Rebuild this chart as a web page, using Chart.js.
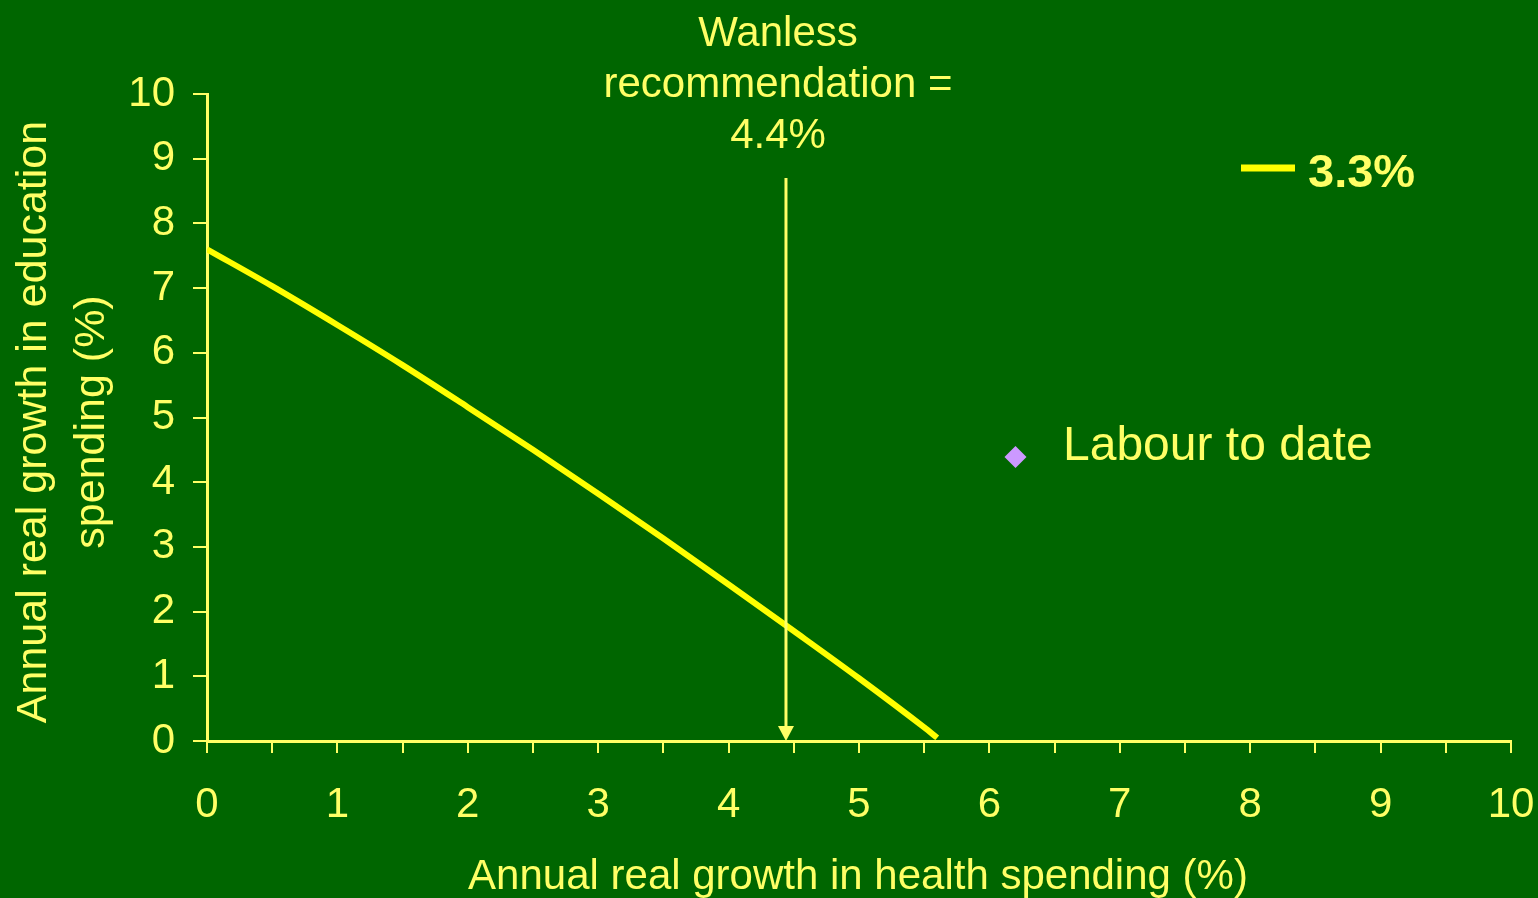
<!DOCTYPE html>
<html lang="en">
<head>
  <meta charset="UTF-8" />
  <title>Health vs education spending growth</title>
  <script src="https://cdn.jsdelivr.net/npm/chart.js"></script>
  <style>
    html, body { margin: 0; padding: 0; background: #006600; }
    #wrap { width: 1538px; height: 898px; }
  </style>
</head>
<body>
  <div id="wrap"><canvas id="chart" width="1538" height="898"></canvas></div>

  <script>
    // data
    const healthGrowth = [0, 0.5, 1, 1.5, 2, 2.5, 3, 3.5, 4, 4.5, 5, 5.5, 5.6];
    const educationGrowth = [7.6, 7.03, 6.43, 5.81, 5.16, 4.50, 3.82, 3.13, 2.42, 1.70, 0.97, 0.21, 0.05];
    const labourX = [6.2];
    const labourY = [4.39];
    const wanlessX = [4.44, 4.44];
    const wanlessY = [8.7, 0];
    const seriesLabel = "3.3%";
    const labourLabel = "Labour to date";
    const wanlessLabel = ["Wanless", "recommendation =", "4.4%"];
    const xTitle = "Annual real growth in health spending (%)";
    const yTitle = ["Annual real growth in education", "spending (%)"];

    const TEXT = "#FFFF66";
    const FONT = "'Liberation Sans', Arial, sans-serif";

    const curve = healthGrowth.map((x, i) => ({ x: x, y: educationGrowth[i] }));
    const labour = labourX.map((x, i) => ({ x: x, y: labourY[i] }));

    // arrow, labels and axis titles
    const extras = {
      id: "extras",
      afterDraw(chart) {
        const ctx = chart.ctx;
        const xs = chart.scales.x, ys = chart.scales.y;
        ctx.save();

        // Wanless arrow
        const ax = xs.getPixelForValue(wanlessX[0]);
        const aTop = ys.getPixelForValue(wanlessY[0]);
        const aBot = ys.getPixelForValue(wanlessY[1]);
        ctx.strokeStyle = TEXT;
        ctx.fillStyle = TEXT;
        ctx.lineWidth = 3;
        ctx.beginPath();
        ctx.moveTo(ax, aTop);
        ctx.lineTo(ax, aBot - 12);
        ctx.stroke();
        ctx.beginPath();
        ctx.moveTo(ax - 8, aBot - 15);
        ctx.lineTo(ax + 8, aBot - 15);
        ctx.lineTo(ax, aBot);
        ctx.closePath();
        ctx.fill();

        ctx.textAlign = "center";
        ctx.textBaseline = "alphabetic";
        ctx.font = "42px " + FONT;
        wanlessLabel.forEach((t, i) => ctx.fillText(t, 778, 46 + i * 51));

        // labour label
        ctx.textAlign = "left";
        ctx.font = "48px " + FONT;
        ctx.fillText(labourLabel, 1063, 460);

        // legend
        ctx.strokeStyle = "#FFFF00";
        ctx.lineWidth = 7;
        ctx.beginPath();
        ctx.moveTo(1241, 168);
        ctx.lineTo(1295, 168);
        ctx.stroke();
        ctx.font = "bold 47px " + FONT;
        ctx.fillText(seriesLabel, 1308, 187);

        // axis titles
        ctx.textAlign = "center";
        ctx.textBaseline = "middle";
        ctx.font = "42px " + FONT;
        ctx.fillText(xTitle, 858, 877);
        ctx.translate(34, 422);
        ctx.rotate(-Math.PI / 2);
        ctx.font = "43px " + FONT;
        ctx.fillText(yTitle[0], 0, 0);
        ctx.fillText(yTitle[1], 0, 58);
        ctx.restore();
      }
    };

    new Chart(document.getElementById("chart").getContext("2d"), {
      type: "scatter",
      data: {
        datasets: [
          {
            data: curve,
            showLine: true,
            borderColor: "#FFFF00",
            borderWidth: 6,
            pointRadius: 0,
            cubicInterpolationMode: "monotone"
          },
          {
            data: labour,
            pointStyle: "rectRot",
            pointRadius: 11,
            backgroundColor: "#CC99FF",
            borderColor: "#CC99FF",
            borderWidth: 0
          }
        ]
      },
      options: {
        responsive: false,
        animation: false,
        layout: { padding: { left: 0, top: 94, right: 27, bottom: 0 } },
        plugins: { legend: { display: false }, tooltip: { enabled: false } },
        scales: {
          x: {
            type: "linear",
            min: 0,
            max: 10,
            afterFit(s) { s.height = 157; s.paddingLeft = 0; s.paddingRight = 0; },
            border: { color: TEXT, width: 3 },
            grid: { drawOnChartArea: false, color: TEXT, lineWidth: 2, tickLength: 12 },
            ticks: {
              stepSize: 0.5,
              autoSkip: false,
              maxRotation: 0,
              color: TEXT,
              padding: 27,
              font: { family: FONT, size: 42 },
              callback: v => Number.isInteger(v) ? v : ""
            }
          },
          y: {
            type: "linear",
            min: 0,
            max: 10,
            afterFit(s) { s.width = 207; s.paddingTop = 0; s.paddingBottom = 0; },
            border: { color: TEXT, width: 3 },
            grid: { drawOnChartArea: false, color: TEXT, lineWidth: 2, tickLength: 14 },
            ticks: {
              stepSize: 1,
              color: TEXT,
              padding: 18,
              font: { family: FONT, size: 42 }
            }
          }
        }
      },
      plugins: [extras]
    });
  </script>
</body>
</html>
